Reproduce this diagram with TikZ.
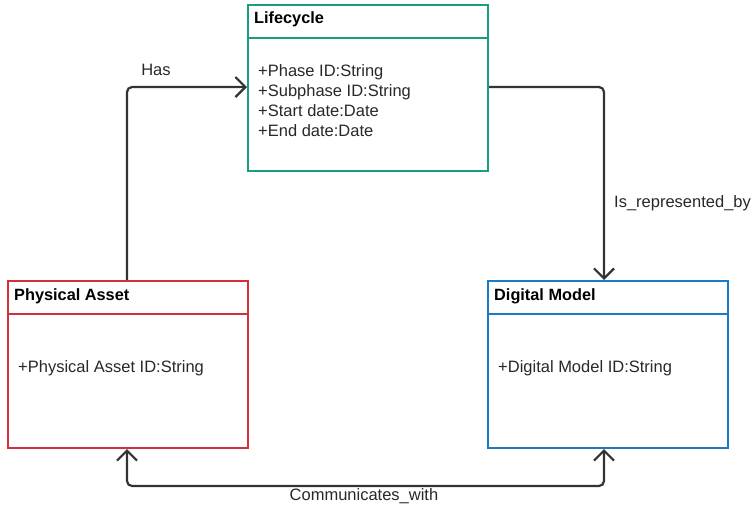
\documentclass[tikz,border=0pt]{standalone}
\usepackage{fontspec}
\setmainfont{Liberation Sans}
\usetikzlibrary{arrows.meta}
\definecolor{lcgreen}{RGB}{26,156,128}
\definecolor{pared}{RGB}{208,49,60}
\definecolor{dmblue}{RGB}{26,123,196}
\definecolor{linkgray}{RGB}{51,51,51}
\definecolor{txtgray}{RGB}{40,40,40}
\tikzset{
  classbox/.style={draw, line width=2pt, rectangle, minimum width=240pt, minimum height=167pt, anchor=north west, inner sep=0pt},
  classtitle/.style={anchor=west, font=\bfseries\fontsize{16.3}{18}\selectfont, inner sep=0pt},
  attr/.style={anchor=west, align=left, font=\fontsize{16.5}{20}\selectfont, text=txtgray, inner sep=0pt},
  tipbarb/.style={Straight Barb[length=10pt,width=20pt]},
  link/.style={draw=linkgray, line width=2.2pt, rounded corners=5pt, -{Straight Barb[length=10pt,width=20pt]}},
  linklabel/.style={font=\fontsize{16.5}{18}\selectfont, text=txtgray, inner sep=0pt}
}
\begin{document}
\begin{tikzpicture}[x=1pt,y=-1pt]
  \useasboundingbox (0,0) rectangle (754,512);
  % class boxes
  \node[classbox, draw=lcgreen, minimum height=166pt] (life) at (247,4) {};
  \draw[lcgreen, line width=2pt] (247,38) -- (487,38);
  \node[classtitle] (lifet) at (254,19) {Lifecycle};
  \node[attr] (lifea) at (258,101) {+Phase ID:String\\+Subphase ID:String\\+Start date:Date\\+End date:Date};

  \node[classbox, draw=pared] (pa) at (7,280) {};
  \draw[pared, line width=2pt] (7,314) -- (247,314);
  \node[classtitle] (pat) at (14,296) {Physical Asset};
  \node[attr] (paa) at (18,368) {+Physical Asset ID:String};

  \node[classbox, draw=dmblue] (dm) at (487,280) {};
  \draw[dmblue, line width=2pt] (487,314) -- (727,314);
  \node[classtitle] (dmt) at (494,296) {Digital Model};
  \node[attr] (dma) at (498,368) {+Digital Model ID:String};

  % associations
  \coordinate (hasA) at (127,87);
  \draw[link] (pa.north -| hasA) -- (hasA) -- (life.west |- hasA);
  \node[linklabel] (hasl) at (156,70) {Has};

  \coordinate (repA) at (604,87);
  \draw[link] (life.east |- repA) -- (repA) -- (dm.north -| repA);
  \node[linklabel, anchor=west] (repl) at (614,203) {Is\_represented\_by};

  \coordinate (comA) at (127,486);
  \coordinate (comB) at (604,486);
  \draw[link, {Straight Barb[length=10pt,width=20pt]}-{Straight Barb[length=10pt,width=20pt]}] (pa.south -| comA) -- (comA) -- (comB) -- (dm.south -| comB);
  \node[linklabel] (coml) at (364,496) {Communicates\_with};
\end{tikzpicture}
\end{document}
